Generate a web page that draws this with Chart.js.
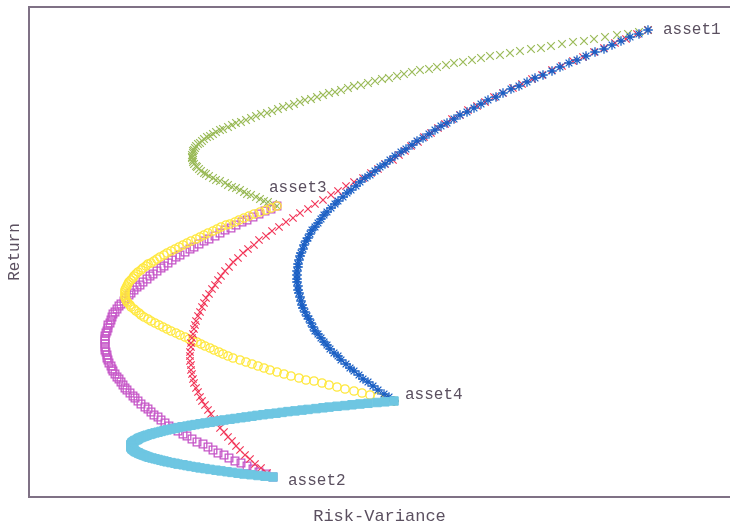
<!DOCTYPE html>
<html>
<head>
<meta charset="utf-8">
<title>Two-asset frontiers</title>
<script src="https://cdn.jsdelivr.net/npm/chart.js@4/dist/chart.umd.min.js"></script>
<style>
  html, body { margin: 0; padding: 0; background: #ffffff; }
  #wrap { width: 730px; height: 522px; }
</style>
</head>
<body>
<div id="wrap"><canvas id="c" width="730" height="522"></canvas></div>
<script>
// Assets at the ends of each frontier
const assetNames = ['asset1', 'asset2', 'asset3', 'asset4'];
const assetRisk  = [61.9, 24.4, 24.8, 36.5];
const assetRet   = [46.7, 2.0, 29.1, 9.6];

// Frontier asset3 -> asset1
const risk13 = [24.8,24.4,23.9,23.5,23.1,22.7,22.2,21.8,21.5,21.1,
  20.7,20.3,19.9,19.6,19.1,18.7,18.4,18.0,17.7,17.5,
  17.2,17.0,16.8,16.7,16.5,16.4,16.4,16.3,16.3,16.3,
  16.4,16.4,16.5,16.6,16.7,16.9,17.1,17.3,17.5,17.8,
  18.1,18.4,18.7,19.1,19.4,19.9,20.3,20.7,21.2,21.7,
  22.2,22.7,23.2,23.8,24.3,24.9,25.4,26.0,26.5,27.1,
  27.6,28.2,28.8,29.4,30.0,30.6,31.2,31.9,32.5,33.2,
  33.9,34.6,35.3,36.0,36.8,37.5,38.3,39.1,40.0,40.8,
  41.7,42.5,43.4,44.3,45.2,46.1,47.1,48.1,49.1,50.2,
  51.2,52.2,53.3,54.4,55.5,56.5,57.6,58.8,59.9,61.0,
  61.9];
const ret13 = [29.1,29.3,29.5,29.6,29.8,30.0,30.2,30.3,30.5,30.7,
  30.9,31.0,31.2,31.4,31.6,31.7,31.9,32.1,32.3,32.4,
  32.6,32.8,33.0,33.1,33.3,33.5,33.7,33.9,34.0,34.2,
  34.4,34.6,34.7,34.9,35.1,35.3,35.4,35.6,35.8,36.0,
  36.1,36.3,36.5,36.7,36.8,37.0,37.2,37.4,37.5,37.7,
  37.9,38.1,38.3,38.4,38.6,38.8,39.0,39.1,39.3,39.5,
  39.7,39.8,40.0,40.2,40.4,40.5,40.7,40.9,41.1,41.2,
  41.4,41.6,41.8,41.9,42.1,42.3,42.5,42.7,42.8,43.0,
  43.2,43.4,43.5,43.7,43.9,44.1,44.2,44.4,44.6,44.8,
  44.9,45.1,45.3,45.5,45.6,45.8,46.0,46.2,46.3,46.5,
  46.7];

// Frontier asset4 -> asset1
const risk14 = [36.5,36.0,35.5,34.9,34.4,33.9,33.4,33.0,32.5,32.1,
  31.7,31.2,30.9,30.5,30.1,29.8,29.5,29.2,28.9,28.6,
  28.4,28.2,28.0,27.8,27.6,27.4,27.3,27.2,27.1,27.0,
  26.9,26.9,26.8,26.8,26.8,26.8,26.9,26.9,27.0,27.1,
  27.2,27.4,27.5,27.7,27.9,28.1,28.3,28.6,28.9,29.2,
  29.5,29.8,30.2,30.6,30.9,31.4,31.8,32.2,32.7,33.1,
  33.6,34.1,34.6,35.1,35.6,36.1,36.6,37.2,37.7,38.3,
  38.8,39.4,40.0,40.6,41.2,41.8,42.5,43.1,43.8,44.5,
  45.2,45.9,46.7,47.4,48.2,49.0,49.8,50.6,51.4,52.3,
  53.1,54.0,54.8,55.7,56.6,57.5,58.3,59.2,60.1,61.0,
  61.9];
const ret14 = [9.6,10.0,10.3,10.7,11.1,11.5,11.8,12.2,12.6,12.9,
  13.3,13.7,14.1,14.4,14.8,15.2,15.5,15.9,16.3,16.6,
  17.0,17.4,17.8,18.1,18.5,18.9,19.2,19.6,20.0,20.4,
  20.7,21.1,21.5,21.8,22.2,22.6,23.0,23.3,23.7,24.1,
  24.4,24.8,25.2,25.6,25.9,26.3,26.7,27.0,27.4,27.8,
  28.2,28.5,28.9,29.3,29.6,30.0,30.4,30.7,31.1,31.5,
  31.9,32.2,32.6,33.0,33.3,33.7,34.1,34.5,34.8,35.2,
  35.6,35.9,36.3,36.7,37.1,37.4,37.8,38.2,38.5,38.9,
  39.3,39.7,40.0,40.4,40.8,41.1,41.5,41.9,42.2,42.6,
  43.0,43.4,43.7,44.1,44.5,44.8,45.2,45.6,46.0,46.3,
  46.7];

// Frontier asset2 -> asset1
const risk12 = [24.4,23.8,23.2,22.6,22.1,21.6,21.1,20.7,20.3,19.9,
  19.5,19.1,18.8,18.5,18.2,17.9,17.6,17.3,17.1,16.9,
  16.7,16.5,16.4,16.3,16.2,16.2,16.1,16.1,16.1,16.2,
  16.2,16.3,16.4,16.5,16.6,16.7,16.9,17.1,17.3,17.5,
  17.7,18.0,18.3,18.6,18.9,19.2,19.6,20.0,20.4,20.9,
  21.4,21.9,22.5,23.0,23.7,24.3,25.0,25.7,26.4,27.1,
  27.9,28.6,29.4,30.2,30.9,31.7,32.5,33.4,34.2,34.9,
  35.6,36.4,37.0,37.6,38.2,38.9,39.5,40.2,40.9,41.6,
  42.3,43.1,43.9,44.8,45.6,46.5,47.4,48.4,49.3,50.3,
  51.3,52.3,53.3,54.4,55.4,56.5,57.5,58.6,59.7,60.8,
  61.9];
const ret12 = [2.0,2.4,2.9,3.3,3.8,4.2,4.7,5.1,5.6,6.0,
  6.5,6.9,7.4,7.8,8.3,8.7,9.2,9.6,10.0,10.5,
  10.9,11.4,11.8,12.3,12.7,13.2,13.6,14.1,14.5,15.0,
  15.4,15.9,16.3,16.8,17.2,17.6,18.1,18.5,19.0,19.4,
  19.9,20.3,20.8,21.2,21.7,22.1,22.6,23.0,23.5,23.9,
  24.4,24.8,25.2,25.7,26.1,26.6,27.0,27.5,27.9,28.4,
  28.8,29.3,29.7,30.2,30.6,31.1,31.5,31.9,32.4,32.8,
  33.3,33.7,34.2,34.6,35.1,35.5,36.0,36.4,36.9,37.3,
  37.8,38.2,38.7,39.1,39.5,40.0,40.4,40.9,41.3,41.8,
  42.2,42.7,43.1,43.6,44.0,44.5,44.9,45.4,45.8,46.3,
  46.7];

// Frontier asset3 -> asset4
const risk34 = [24.8,24.2,23.7,23.1,22.5,22.0,21.5,21.0,20.6,20.1,
  19.7,19.2,18.8,18.4,17.9,17.5,17.1,16.7,16.2,15.8,
  15.4,15.0,14.6,14.2,13.8,13.5,13.1,12.8,12.5,12.2,
  11.9,11.7,11.4,11.2,10.9,10.7,10.5,10.4,10.2,10.0,
  9.9,9.8,9.7,9.6,9.6,9.6,9.6,9.6,9.7,9.8,
  9.9,10.1,10.2,10.5,10.7,11.0,11.2,11.5,11.9,12.2,
  12.6,13.0,13.4,13.8,14.2,14.7,15.1,15.6,16.0,16.4,
  16.8,17.2,17.6,18.1,18.5,19.0,19.4,19.9,20.4,21.1,
  21.7,22.3,22.9,23.5,24.1,24.8,25.5,26.2,27.0,27.7,
  28.5,29.3,30.0,30.8,31.6,32.5,33.3,34.1,34.9,35.7,
  36.5];
const ret34 = [29.1,28.9,28.7,28.5,28.3,28.1,27.9,27.7,27.5,27.3,
  27.2,27.0,26.8,26.6,26.4,26.2,26.0,25.8,25.6,25.4,
  25.2,25.0,24.8,24.6,24.4,24.2,24.0,23.8,23.6,23.4,
  23.3,23.1,22.9,22.7,22.5,22.3,22.1,21.9,21.7,21.5,
  21.3,21.1,20.9,20.7,20.5,20.3,20.1,19.9,19.7,19.5,
  19.4,19.2,19.0,18.8,18.6,18.4,18.2,18.0,17.8,17.6,
  17.4,17.2,17.0,16.8,16.6,16.4,16.2,16.0,15.8,15.6,
  15.5,15.3,15.1,14.9,14.7,14.5,14.3,14.1,13.9,13.7,
  13.5,13.3,13.1,12.9,12.7,12.5,12.3,12.1,11.9,11.7,
  11.6,11.4,11.2,11.0,10.8,10.6,10.4,10.2,10.0,9.8,
  9.6];

// Frontier asset3 -> asset2
const risk32 = [24.8,24.2,23.6,23.0,22.4,21.8,21.3,20.7,20.2,19.6,
  19.1,18.6,18.0,17.5,17.0,16.5,16.1,15.6,15.1,14.7,
  14.3,13.9,13.5,13.2,12.8,12.4,12.1,11.8,11.4,11.1,
  10.8,10.5,10.2,10.0,9.7,9.5,9.2,9.0,8.8,8.6,
  8.4,8.3,8.2,8.1,7.9,7.9,7.8,7.7,7.6,7.6,
  7.6,7.6,7.6,7.6,7.7,7.8,7.8,7.9,8.0,8.2,
  8.3,8.4,8.6,8.8,9.0,9.2,9.4,9.6,9.8,10.1,
  10.4,10.6,10.9,11.2,11.6,11.9,12.2,12.5,12.9,13.2,
  13.6,14.0,14.4,14.9,15.4,15.8,16.3,16.8,17.4,17.9,
  18.4,18.9,19.5,20.0,20.6,21.2,21.8,22.4,23.0,23.7,
  24.4];
const ret32 = [29.1,28.8,28.6,28.3,28.0,27.7,27.5,27.2,26.9,26.7,
  26.4,26.1,25.8,25.6,25.3,25.0,24.8,24.5,24.2,24.0,
  23.7,23.4,23.1,22.9,22.6,22.3,22.1,21.8,21.5,21.2,
  21.0,20.7,20.4,20.2,19.9,19.6,19.3,19.1,18.8,18.5,
  18.3,18.0,17.7,17.4,17.2,16.9,16.6,16.4,16.1,15.8,
  15.6,15.3,15.0,14.7,14.5,14.2,13.9,13.7,13.4,13.1,
  12.8,12.6,12.3,12.0,11.8,11.5,11.2,10.9,10.7,10.4,
  10.1,9.9,9.6,9.3,9.0,8.8,8.5,8.2,8.0,7.7,
  7.4,7.1,6.9,6.6,6.3,6.1,5.8,5.5,5.3,5.0,
  4.7,4.4,4.2,3.9,3.6,3.4,3.1,2.8,2.5,2.3,
  2.0];

// Frontier asset4 -> asset2
const risk42 = [36.5,35.6,34.8,33.9,33.1,32.3,31.6,30.8,30.0,29.4,
  28.7,27.9,27.3,26.6,25.9,25.3,24.7,24.0,23.4,22.8,
  22.3,21.7,21.2,20.6,20.1,19.5,19.1,18.5,18.1,17.6,
  17.1,16.6,16.2,15.8,15.3,14.9,14.6,14.2,13.8,13.5,
  13.2,12.9,12.6,12.3,12.1,11.8,11.6,11.4,11.2,11.0,
  10.9,10.8,10.6,10.5,10.4,10.3,10.3,10.2,10.2,10.2,
  10.2,10.2,10.3,10.3,10.4,10.5,10.6,10.7,10.9,11.0,
  11.2,11.4,11.6,11.8,12.0,12.3,12.6,12.9,13.2,13.5,
  13.8,14.2,14.6,14.9,15.4,15.8,16.2,16.7,17.1,17.6,
  18.1,18.7,19.2,19.8,20.3,20.9,21.5,22.2,22.9,23.6,
  24.4];
const ret42 = [9.60,9.52,9.45,9.37,9.30,9.22,9.14,9.07,8.99,8.92,
  8.84,8.76,8.69,8.61,8.54,8.46,8.38,8.31,8.23,8.16,
  8.08,8.00,7.93,7.85,7.78,7.70,7.62,7.55,7.47,7.40,
  7.32,7.24,7.17,7.09,7.02,6.94,6.86,6.79,6.71,6.64,
  6.56,6.48,6.41,6.33,6.26,6.18,6.10,6.03,5.95,5.88,
  5.80,5.72,5.65,5.57,5.50,5.42,5.34,5.27,5.19,5.12,
  5.04,4.96,4.89,4.81,4.74,4.66,4.58,4.51,4.43,4.36,
  4.28,4.20,4.13,4.05,3.98,3.90,3.82,3.75,3.67,3.60,
  3.52,3.44,3.37,3.29,3.22,3.14,3.06,2.99,2.91,2.84,
  2.76,2.68,2.61,2.53,2.46,2.38,2.30,2.23,2.15,2.08,
  2.00];

const TEXT = '#5b5060';
const FRAME = '#7f7185';
const MONO = '"Liberation Mono", "DejaVu Sans Mono", monospace';

const pts = (risk, ret) => risk.map((v, i) => ({ x: v, y: ret[i] }));

function series(label, risk, ret, style, color, radius, fill, width) {
  return {
    label,
    data: pts(risk, ret),
    showLine: false,
    pointStyle: style,
    pointRadius: radius,
    pointHoverRadius: radius,
    pointBorderColor: color,
    pointBackgroundColor: fill,
    pointBorderWidth: width
  };
}

// Text next to each asset point: pixel nudges from the point
const labelNudge = [[15, 0], [15, 4], [-8, -18], [11, -6]];

const assetLabels = {
  id: 'assetLabels',
  afterDatasetsDraw(chart) {
    const { ctx, scales: { x, y } } = chart;
    ctx.save();
    ctx.font = '16px ' + MONO;
    ctx.fillStyle = TEXT;
    ctx.textAlign = 'left';
    ctx.textBaseline = 'middle';
    assetNames.forEach((name, i) => {
      const [dx, dy] = labelNudge[i];
      ctx.fillText(name, x.getPixelForValue(assetRisk[i]) + dx, y.getPixelForValue(assetRet[i]) + dy);
    });
    ctx.restore();
  }
};

const hidden = { display: false, drawTicks: false };

new Chart(document.getElementById('c'), {
  type: 'scatter',
  data: {
    datasets: [
      series('asset4-asset2', risk42, ret42, 'rect', '#6ec6e2', 6.0, '#6ec6e2', 1),
      series('asset4-asset1', risk14, ret14, 'star', '#1a5fc4', 4.8, 'rgba(0,0,0,0)', 1.3),
      series('asset2-asset1', risk12, ret12, 'crossRot', '#f2385a', 5.2, 'rgba(0,0,0,0)', 1.2),
      series('asset3-asset4', risk34, ret34, 'circle', '#ffe83c', 4.2, 'rgba(0,0,0,0)', 1.3),
      series('asset3-asset2', risk32, ret32, 'rect', '#c657c8', 5.4, 'rgba(0,0,0,0)', 1.3),
      series('asset3-asset1', risk13, ret13, 'crossRot', '#9bbb59', 5.4, 'rgba(0,0,0,0)', 1.2)
    ]
  },
  options: {
    responsive: false,
    animation: false,
    devicePixelRatio: 1,
    layout: { autoPadding: false, padding: { top: 7, right: 0, bottom: 0, left: 0 } },
    plugins: { legend: { display: false }, tooltip: { enabled: false } },
    scales: {
      x: {
        type: 'linear', position: 'bottom', min: 0, max: 70.1,
        grid: hidden, ticks: { display: false },
        border: { display: true, color: FRAME, width: 2 },
        title: {
          display: true, text: 'Risk-Variance', color: TEXT,
          font: { family: MONO, size: 17, lineHeight: '12px' },
          padding: { top: 13, bottom: 0 }
        }
      },
      y: {
        type: 'linear', position: 'left', min: 0, max: 49,
        grid: hidden, ticks: { display: false },
        border: { display: true, color: FRAME, width: 2 },
        title: {
          display: true, text: 'Return', color: TEXT,
          font: { family: MONO, size: 16, lineHeight: '12px' },
          padding: { top: 9, bottom: 8 }
        }
      },
      xTop: {
        type: 'linear', position: 'top', axis: 'x', display: true,
        grid: hidden, ticks: { display: false },
        border: { display: true, color: FRAME, width: 2 }
      }
    }
  },
  plugins: [assetLabels]
});
</script>
</body>
</html>
